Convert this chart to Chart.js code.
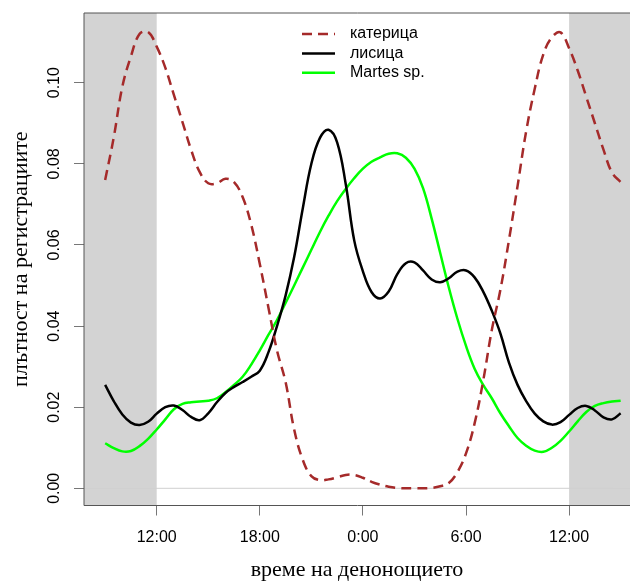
<!DOCTYPE html>
<html>
<head>
<meta charset="utf-8">
<script src="https://cdn.jsdelivr.net/npm/chart.js@4.4.1/dist/chart.umd.min.js"></script>
<style>
  body { margin: 0; background: #fff; overflow: hidden; }
</style>
</head>
<body>
<canvas id="myChart" width="630" height="581"></canvas>
<script>
// time of day in hours, 9:00 through 15:00 of the next day
const hours = [
  9, 9.5, 10, 10.5, 11, 11.5, 12, 12.5, 13, 13.5, 14, 14.5, 15, 15.5, 16, 16.5,
  17, 17.5, 18, 18.5, 19, 19.5, 20, 20.5, 21, 21.5, 22, 22.5, 23, 23.5, 24, 24.5,
  25, 25.5, 26, 26.5, 27, 27.5, 28, 28.5, 29, 29.5, 30, 30.5, 31, 31.5, 32, 32.5,
  33, 33.5, 34, 34.5, 35, 35.5, 36, 36.5, 37, 37.5, 38, 38.5, 39
];

const squirrel = [
  0.0760, 0.0865, 0.0990, 0.1065, 0.1120, 0.1125, 0.1089, 0.1037, 0.0970, 0.0903,
  0.0835, 0.0780, 0.0752, 0.0752, 0.0763, 0.0755, 0.0718, 0.0650, 0.0553, 0.0446,
  0.0340, 0.0262, 0.0145, 0.0070, 0.0030, 0.0020, 0.0022, 0.0027, 0.0033, 0.0033,
  0.0026, 0.0016, 0.0009, 0.0004, 0.0001, 0.0000, 0.0000, 0.0000, 0.0001, 0.0005,
  0.0013, 0.0040, 0.0086, 0.0160, 0.0265, 0.0390, 0.0489, 0.0612, 0.0745, 0.0880,
  0.0985, 0.1070, 0.1112, 0.1124, 0.1085, 0.1030, 0.0965, 0.0900, 0.0835, 0.0778,
  0.0755
];

const fox = [
  0.0255, 0.0215, 0.0182, 0.0162, 0.0156, 0.0164, 0.0184, 0.0200, 0.0204, 0.0193,
  0.0176, 0.0168, 0.0185, 0.0212, 0.0235, 0.0250, 0.0262, 0.0275, 0.0290, 0.0335,
  0.0400, 0.0475, 0.0570, 0.0690, 0.0800, 0.0864, 0.0884, 0.0853, 0.0750, 0.0610,
  0.0535, 0.0484, 0.0468, 0.0485, 0.0528, 0.0555, 0.0557, 0.0537, 0.0515, 0.0508,
  0.0518, 0.0534, 0.0537, 0.0520, 0.0485, 0.0438, 0.0382, 0.0310, 0.0255, 0.0215,
  0.0184, 0.0165, 0.0157, 0.0163, 0.0181, 0.0198, 0.0203, 0.0192, 0.0175, 0.0170,
  0.0185
];

const martes = [
  0.0111, 0.0099, 0.0091, 0.0092, 0.0104, 0.0122, 0.0145, 0.0170, 0.0195, 0.0208,
  0.0212, 0.0214, 0.0216, 0.0222, 0.0237, 0.0255, 0.0275, 0.0305, 0.0340, 0.0378,
  0.0415, 0.0457, 0.0500, 0.0544, 0.0588, 0.0632, 0.0672, 0.0708, 0.0738, 0.0765,
  0.0788, 0.0805, 0.0816, 0.0825, 0.0826, 0.0815, 0.0788, 0.0740, 0.0665, 0.0580,
  0.0495, 0.0418, 0.0351, 0.0295, 0.0255, 0.0222, 0.0185, 0.0153, 0.0124, 0.0105,
  0.0093, 0.0090, 0.0100, 0.0117, 0.0140, 0.0165, 0.0188, 0.0203, 0.0210, 0.0214,
  0.0216
];

const seriesLabels = ['катерица', 'лисица', 'Martes sp.'];
const xTickValues = [12, 18, 24, 30, 36];
const xTickLabels = ['12:00', '18:00', '0:00', '6:00', '12:00'];
const yTickValues = [0, 0.02, 0.04, 0.06, 0.08, 0.10];
const yTickLabels = ['0.00', '0.02', '0.04', '0.06', '0.08', '0.10'];
const shadedHours = [[-Infinity, 12], [36, Infinity]];

const toPoints = (vals) => vals.map((v, i) => ({ x: hours[i], y: v }));

// gray night bands + zero line behind the curves
const backdrop = {
  id: 'backdrop',
  beforeDatasetsDraw(chart) {
    const { ctx, chartArea: a, scales: { x, y } } = chart;
    ctx.save();
    ctx.fillStyle = '#d3d3d3';
    shadedHours.forEach(([from, to]) => {
      const x0 = Math.max(a.left, isFinite(from) ? x.getPixelForValue(from) : a.left);
      const x1 = Math.min(a.right, isFinite(to) ? x.getPixelForValue(to) : a.right);
      ctx.fillRect(x0, a.top, x1 - x0, a.bottom - a.top);
    });
    const y0 = y.getPixelForValue(0);
    ctx.strokeStyle = '#d0d0d0';
    ctx.lineWidth = 1;
    ctx.beginPath();
    ctx.moveTo(a.left, y0);
    ctx.lineTo(a.right, y0);
    ctx.stroke();
    ctx.restore();
  }
};

// box, rotated y labels and the legend, R style
const overlay = {
  id: 'overlay',
  afterDraw(chart) {
    const { ctx, chartArea: a, scales: { y } } = chart;
    ctx.save();
    ctx.strokeStyle = '#555';
    ctx.lineWidth = 1;
    ctx.beginPath();
    ctx.moveTo(a.right + 20, a.top);
    ctx.lineTo(a.left, a.top);
    ctx.lineTo(a.left, a.bottom);
    ctx.lineTo(a.right + 20, a.bottom);
    ctx.stroke();

    ctx.fillStyle = '#000';
    ctx.font = '16px "Liberation Sans", Arial, sans-serif';
    ctx.textAlign = 'center';
    ctx.textBaseline = 'middle';
    yTickValues.forEach((v, i) => {
      ctx.save();
      ctx.translate(55, y.getPixelForValue(v));
      ctx.rotate(-Math.PI / 2);
      ctx.fillText(yTickLabels[i], 0, 0);
      ctx.restore();
    });

    ctx.textAlign = 'left';
    chart.data.datasets.forEach((ds, i) => {
      const rowY = 34 + i * 19.4;
      ctx.strokeStyle = ds.borderColor;
      ctx.lineWidth = ds.borderWidth;
      ctx.setLineDash(ds.borderDash || []);
      ctx.beginPath();
      ctx.moveTo(302, rowY);
      ctx.lineTo(335, rowY);
      ctx.stroke();
      ctx.setLineDash([]);
      ctx.fillText(ds.label, 350, rowY);
    });
    ctx.restore();
  }
};

const config = {
  type: 'line',
  data: {
    datasets: [
      {
        label: seriesLabels[0],
        data: toPoints(squirrel),
        borderColor: '#a52a2a',
        borderWidth: 2.5,
        borderDash: [10, 6],
        pointRadius: 0,
        tension: 0.4
      },
      {
        label: seriesLabels[1],
        data: toPoints(fox),
        borderColor: '#000000',
        borderWidth: 2.5,
        pointRadius: 0,
        tension: 0.4
      },
      {
        label: seriesLabels[2],
        data: toPoints(martes),
        borderColor: '#00ff00',
        borderWidth: 2.5,
        pointRadius: 0,
        tension: 0.4
      }
    ]
  },
  options: {
    responsive: false,
    animation: false,
    layout: { padding: { top: 13, left: 0, right: 0, bottom: 0 } },
    plugins: {
      legend: { display: false },
      tooltip: { enabled: false }
    },
    scales: {
      x: {
        type: 'linear',
        min: 7.769,
        max: 39.544,
        afterBuildTicks: (scale) => {
          scale.ticks = xTickValues.map(v => ({ value: v }));
        },
        afterFit: (scale) => { scale.height = 75.5; },
        grid: {
          drawOnChartArea: false,
          drawTicks: true,
          tickLength: 10,
          tickColor: '#777'
        },
        border: { display: false },
        ticks: {
          autoSkip: false,
          maxRotation: 0,
          padding: 12,
          color: '#000',
          font: { family: '"Liberation Sans", Arial, sans-serif', size: 16 },
          callback: (v) => xTickLabels[xTickValues.indexOf(v)]
        },
        title: {
          display: true,
          text: 'време на денонощието',
          color: '#000',
          font: { family: '"Liberation Serif", "Times New Roman", serif', size: 22 },
          padding: { top: 0, bottom: -2 }
        }
      },
      y: {
        min: -0.00424,
        max: 0.11718,
        afterBuildTicks: (scale) => {
          scale.ticks = yTickValues.map(v => ({ value: v }));
        },
        afterFit: (scale) => { scale.width = 84; },
        grid: {
          drawOnChartArea: false,
          drawTicks: true,
          tickLength: 10,
          tickColor: '#777'
        },
        border: { display: false },
        ticks: { display: false },
        title: {
          display: true,
          text: 'плътност на регистрациите',
          color: '#000',
          font: { family: '"Liberation Serif", "Times New Roman", serif', size: 22 },
          padding: { top: 8, bottom: 0 }
        }
      }
    }
  },
  plugins: [backdrop, overlay]
};

const myChart = new Chart(document.getElementById('myChart'), config);
</script>
</body>
</html>
